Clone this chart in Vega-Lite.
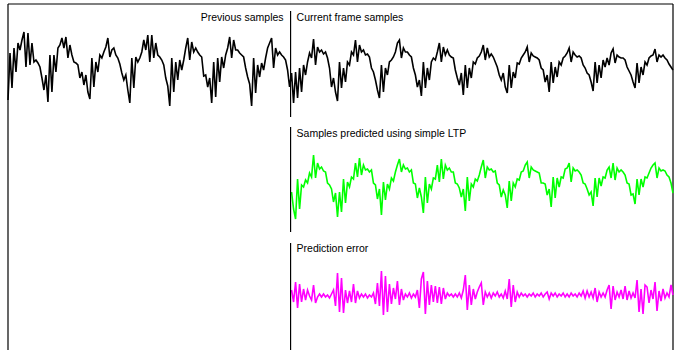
{
"$schema": "https://vega.github.io/schema/vega-lite/v6.json",
"width": 665, "height": 346,
"autosize": {"type": "none"},
"padding": {"left": 8, "top": 4, "right": 1, "bottom": 0},
"background": "white",
"config": {"view": {"stroke": null}, "font": "Liberation Sans"},
"datasets": {
"black": [
{"n":0,"v":-30},{"n":1,"v":17},{"n":2,"v":-18},{"n":3,"v":22},{"n":4,"v":-2},{"n":5,"v":27},{"n":6,"v":20},{"n":7,"v":30},{"n":8,"v":38},{"n":9,"v":3},{"n":10,"v":37},{"n":11,"v":5},{"n":12,"v":27},{"n":13,"v":8},{"n":14,"v":10},{"n":15,"v":7},{"n":16,"v":3},{"n":17,"v":-8},{"n":18,"v":-20},{"n":19,"v":-5},
{"n":20,"v":-32},{"n":21,"v":15},{"n":22,"v":-22},{"n":23,"v":15},{"n":24,"v":-2},{"n":25,"v":22},{"n":26,"v":25},{"n":27,"v":32},{"n":28,"v":22},{"n":29,"v":33},{"n":30,"v":12},{"n":31,"v":25},{"n":32,"v":15},{"n":33,"v":8},{"n":34,"v":7},{"n":35,"v":5},{"n":36,"v":-8},{"n":37,"v":-2},{"n":38,"v":-15},{"n":39,"v":-5},{"n":40,"v":-22},
{"n":41,"v":-29},{"n":42,"v":12},{"n":43,"v":-17},{"n":44,"v":8},{"n":45,"v":-2},{"n":46,"v":15},{"n":47,"v":12},{"n":48,"v":18},{"n":49,"v":23},{"n":50,"v":32},{"n":51,"v":13},{"n":52,"v":20},{"n":53,"v":22},{"n":54,"v":15},{"n":55,"v":12},{"n":56,"v":6},{"n":57,"v":-3},{"n":58,"v":-10},{"n":59,"v":-5},{"n":60,"v":-20},
{"n":61,"v":-33},{"n":62,"v":12},{"n":63,"v":-18},{"n":64,"v":13},{"n":65,"v":8},{"n":66,"v":12},{"n":67,"v":18},{"n":68,"v":30},{"n":69,"v":20},{"n":70,"v":35},{"n":71,"v":8},{"n":72,"v":35},{"n":73,"v":12},{"n":74,"v":27},{"n":75,"v":15},{"n":76,"v":13},{"n":77,"v":10},{"n":78,"v":5},{"n":79,"v":-8},{"n":80,"v":-16},
{"n":81,"v":-36},{"n":82,"v":12},{"n":83,"v":-22},{"n":84,"v":8},{"n":85,"v":-10},{"n":86,"v":10},{"n":87,"v":0},{"n":88,"v":10},{"n":89,"v":22},{"n":90,"v":32},{"n":91,"v":10},{"n":92,"v":28},{"n":93,"v":18},{"n":94,"v":22},{"n":95,"v":18},{"n":96,"v":15},{"n":97,"v":13},{"n":98,"v":-6},{"n":99,"v":-5},{"n":100,"v":-17},{"n":101,"v":-8},
{"n":102,"v":-33},{"n":103,"v":8},{"n":104,"v":-27},{"n":105,"v":12},{"n":106,"v":-12},{"n":107,"v":13},{"n":108,"v":2},{"n":109,"v":15},{"n":110,"v":22},{"n":111,"v":33},{"n":112,"v":12},{"n":113,"v":30},{"n":114,"v":20},{"n":115,"v":20},{"n":116,"v":17},{"n":117,"v":15},{"n":118,"v":13},{"n":119,"v":2},{"n":120,"v":-7},{"n":121,"v":-14},
{"n":122,"v":-36},{"n":123,"v":12},{"n":124,"v":-23},{"n":125,"v":5},{"n":126,"v":-7},{"n":127,"v":7},{"n":128,"v":0},{"n":129,"v":12},{"n":130,"v":22},{"n":131,"v":27},{"n":132,"v":32},{"n":133,"v":2},{"n":134,"v":22},{"n":135,"v":15},{"n":136,"v":18},{"n":137,"v":15},{"n":138,"v":13},{"n":139,"v":10},{"n":140,"v":0},{"n":141,"v":-17},{"n":142,"v":-3},
{"n":143,"v":-33},{"n":144,"v":-2},{"n":145,"v":-28},{"n":146,"v":2},{"n":147,"v":-22},{"n":148,"v":5},{"n":149,"v":-5},{"n":150,"v":8},{"n":151,"v":17},{"n":152,"v":12},{"n":153,"v":31},{"n":154,"v":5},{"n":155,"v":23},{"n":156,"v":18},{"n":157,"v":20},{"n":158,"v":16},{"n":159,"v":18},{"n":160,"v":12},{"n":161,"v":2},{"n":162,"v":-17},{"n":163,"v":-8},{"n":164,"v":-22},
{"n":165,"v":-31},{"n":166,"v":8},{"n":167,"v":-18},{"n":168,"v":2},{"n":169,"v":-12},{"n":170,"v":8},{"n":171,"v":5},{"n":172,"v":18},{"n":173,"v":15},{"n":174,"v":30},{"n":175,"v":8},{"n":176,"v":25},{"n":177,"v":18},{"n":178,"v":20},{"n":179,"v":15},{"n":180,"v":16},{"n":181,"v":13},{"n":182,"v":2},{"n":183,"v":-2},{"n":184,"v":-10},{"n":185,"v":-20},
{"n":186,"v":-28},{"n":187,"v":5},{"n":188,"v":-22},{"n":189,"v":2},{"n":190,"v":-5},{"n":191,"v":8},{"n":192,"v":10},{"n":193,"v":13},{"n":194,"v":18},{"n":195,"v":27},{"n":196,"v":30},{"n":197,"v":12},{"n":198,"v":22},{"n":199,"v":18},{"n":200,"v":18},{"n":201,"v":15},{"n":202,"v":13},{"n":203,"v":2},{"n":204,"v":-5},{"n":205,"v":-17},{"n":206,"v":-10},
{"n":207,"v":-26},{"n":208,"v":8},{"n":209,"v":-18},{"n":210,"v":2},{"n":211,"v":-10},{"n":212,"v":8},{"n":213,"v":12},{"n":214,"v":10},{"n":215,"v":18},{"n":216,"v":27},{"n":217,"v":8},{"n":218,"v":23},{"n":219,"v":15},{"n":220,"v":20},{"n":221,"v":15},{"n":222,"v":13},{"n":223,"v":12},{"n":224,"v":0},{"n":225,"v":-8},{"n":226,"v":-15},{"n":227,"v":-3},
{"n":228,"v":-25},{"n":229,"v":5},{"n":230,"v":-18},{"n":231,"v":2},{"n":232,"v":-8},{"n":233,"v":8},{"n":234,"v":6},{"n":235,"v":12},{"n":236,"v":14},{"n":237,"v":18},{"n":238,"v":25},{"n":239,"v":10},{"n":240,"v":22},{"n":241,"v":13},{"n":242,"v":16},{"n":243,"v":13},{"n":244,"v":8},{"n":245,"v":3},{"n":246,"v":-5},{"n":247,"v":-10},{"n":248,"v":-3},{"n":249,"v":-17},
{"n":250,"v":-23},{"n":251,"v":5},{"n":252,"v":-18},{"n":253,"v":-2},{"n":254,"v":-8},{"n":255,"v":7},{"n":256,"v":6},{"n":257,"v":12},{"n":258,"v":15},{"n":259,"v":18},{"n":260,"v":23},{"n":261,"v":8},{"n":262,"v":17},{"n":263,"v":14},{"n":264,"v":13},{"n":265,"v":12},{"n":266,"v":10},{"n":267,"v":2},{"n":268,"v":0},{"n":269,"v":-12},{"n":270,"v":-5},
{"n":271,"v":-22},{"n":272,"v":8},{"n":273,"v":-13},{"n":274,"v":3},{"n":275,"v":-7},{"n":276,"v":8},{"n":277,"v":5},{"n":278,"v":12},{"n":279,"v":14},{"n":280,"v":17},{"n":281,"v":22},{"n":282,"v":8},{"n":283,"v":18},{"n":284,"v":15},{"n":285,"v":13},{"n":286,"v":14},{"n":287,"v":12},{"n":288,"v":5},{"n":289,"v":2},{"n":290,"v":-3},{"n":291,"v":-5},{"n":292,"v":-12},
{"n":293,"v":-21},{"n":294,"v":8},{"n":295,"v":-13},{"n":296,"v":5},{"n":297,"v":-8},{"n":298,"v":10},{"n":299,"v":3},{"n":300,"v":12},{"n":301,"v":5},{"n":302,"v":17},{"n":303,"v":21},{"n":304,"v":7},{"n":305,"v":15},{"n":306,"v":13},{"n":307,"v":12},{"n":308,"v":12},{"n":309,"v":10},{"n":310,"v":3},{"n":311,"v":-1},{"n":312,"v":-5},{"n":313,"v":-12},
{"n":314,"v":-18},{"n":315,"v":7},{"n":316,"v":-13},{"n":317,"v":3},{"n":318,"v":-5},{"n":319,"v":8},{"n":320,"v":5},{"n":321,"v":12},{"n":322,"v":14},{"n":323,"v":15},{"n":324,"v":21},{"n":325,"v":8},{"n":326,"v":15},{"n":327,"v":13},{"n":328,"v":15},{"n":329,"v":12},{"n":330,"v":10},{"n":331,"v":6},{"n":332,"v":3},{"n":333,"v":0}
],
"green": [
{"n":142,"v":-5},{"n":143,"v":-22},{"n":144,"v":-32},{"n":145,"v":8},{"n":146,"v":-22},{"n":147,"v":2},{"n":148,"v":0},{"n":149,"v":7},{"n":150,"v":4},{"n":151,"v":14},{"n":152,"v":10},{"n":153,"v":32},{"n":154,"v":9},{"n":155,"v":24},{"n":156,"v":18},{"n":157,"v":20},{"n":158,"v":16},{"n":159,"v":15},{"n":160,"v":4},{"n":161,"v":2},{"n":162,"v":-2},{"n":163,"v":-15},{"n":164,"v":-6},{"n":165,"v":-30},
{"n":166,"v":-5},{"n":167,"v":-25},{"n":168,"v":8},{"n":169,"v":-16},{"n":170,"v":5},{"n":171,"v":0},{"n":172,"v":10},{"n":173,"v":8},{"n":174,"v":24},{"n":175,"v":10},{"n":176,"v":29},{"n":177,"v":12},{"n":178,"v":22},{"n":179,"v":17},{"n":180,"v":18},{"n":181,"v":15},{"n":182,"v":17},{"n":183,"v":4},{"n":184,"v":2},{"n":185,"v":-12},{"n":186,"v":-2},{"n":187,"v":-28},
{"n":188,"v":5},{"n":189,"v":-13},{"n":190,"v":3},{"n":191,"v":-2},{"n":192,"v":9},{"n":193,"v":6},{"n":194,"v":15},{"n":195,"v":22},{"n":196,"v":28},{"n":197,"v":15},{"n":198,"v":22},{"n":199,"v":18},{"n":200,"v":19},{"n":201,"v":15},{"n":202,"v":17},{"n":203,"v":4},{"n":204,"v":3},{"n":205,"v":-11},{"n":206,"v":-1},{"n":207,"v":-10},{"n":208,"v":-26},
{"n":209,"v":10},{"n":210,"v":-16},{"n":211,"v":3},{"n":212,"v":-2},{"n":213,"v":9},{"n":214,"v":8},{"n":215,"v":22},{"n":216,"v":5},{"n":217,"v":28},{"n":218,"v":8},{"n":219,"v":22},{"n":220,"v":17},{"n":221,"v":19},{"n":222,"v":15},{"n":223,"v":15},{"n":224,"v":4},{"n":225,"v":3},{"n":226,"v":-1},{"n":227,"v":-10},{"n":228,"v":-2},{"n":229,"v":-24},
{"n":230,"v":10},{"n":231,"v":-14},{"n":232,"v":3},{"n":233,"v":0},{"n":234,"v":8},{"n":235,"v":6},{"n":236,"v":12},{"n":237,"v":20},{"n":238,"v":27},{"n":239,"v":9},{"n":240,"v":20},{"n":241,"v":17},{"n":242,"v":18},{"n":243,"v":15},{"n":244,"v":16},{"n":245,"v":4},{"n":246,"v":2},{"n":247,"v":-10},{"n":248,"v":-3},{"n":249,"v":-8},{"n":250,"v":-21},
{"n":251,"v":6},{"n":252,"v":-14},{"n":253,"v":4},{"n":254,"v":0},{"n":255,"v":8},{"n":256,"v":7},{"n":257,"v":15},{"n":258,"v":16},{"n":259,"v":22},{"n":260,"v":25},{"n":261,"v":9},{"n":262,"v":20},{"n":263,"v":17},{"n":264,"v":16},{"n":265,"v":15},{"n":266,"v":14},{"n":267,"v":4},{"n":268,"v":4},{"n":269,"v":3},{"n":270,"v":-8},{"n":271,"v":-2},{"n":272,"v":-20},
{"n":273,"v":10},{"n":274,"v":-11},{"n":275,"v":9},{"n":276,"v":0},{"n":277,"v":10},{"n":278,"v":9},{"n":279,"v":18},{"n":280,"v":19},{"n":281,"v":24},{"n":282,"v":5},{"n":283,"v":19},{"n":284,"v":16},{"n":285,"v":17},{"n":286,"v":15},{"n":287,"v":12},{"n":288,"v":4},{"n":289,"v":3},{"n":290,"v":-2},{"n":291,"v":-8},{"n":292,"v":-5},{"n":293,"v":-19},
{"n":294,"v":9},{"n":295,"v":-10},{"n":296,"v":9},{"n":297,"v":1},{"n":298,"v":10},{"n":299,"v":9},{"n":300,"v":17},{"n":301,"v":20},{"n":302,"v":9},{"n":303,"v":24},{"n":304,"v":7},{"n":305,"v":19},{"n":306,"v":15},{"n":307,"v":17},{"n":308,"v":15},{"n":309,"v":12},{"n":310,"v":4},{"n":311,"v":3},{"n":312,"v":-8},{"n":313,"v":-7},{"n":314,"v":-17},
{"n":315,"v":8},{"n":316,"v":-8},{"n":317,"v":8},{"n":318,"v":0},{"n":319,"v":10},{"n":320,"v":9},{"n":321,"v":14},{"n":322,"v":19},{"n":323,"v":22},{"n":324,"v":24},{"n":325,"v":9},{"n":326,"v":19},{"n":327,"v":16},{"n":328,"v":17},{"n":329,"v":16},{"n":330,"v":12},{"n":331,"v":10},{"n":332,"v":4},{"n":333,"v":-6}
],
"magenta": [
{"n":142,"v":5},{"n":143,"v":-7},{"n":144,"v":13},{"n":145,"v":-13},{"n":146,"v":11},{"n":147,"v":-7},{"n":148,"v":6},{"n":149,"v":-5},{"n":150,"v":5},{"n":151,"v":-1},{"n":152,"v":-5},{"n":153,"v":10},{"n":154,"v":-8},{"n":155,"v":-2},{"n":156,"v":1},{"n":157,"v":-2},{"n":158,"v":1},{"n":159,"v":-2},{"n":160,"v":0},{"n":161,"v":-3},{"n":162,"v":1},{"n":163,"v":5},{"n":164,"v":-11},
{"n":165,"v":22},{"n":166,"v":-17},{"n":167,"v":17},{"n":168,"v":-18},{"n":169,"v":5},{"n":170,"v":-8},{"n":171,"v":4},{"n":172,"v":-7},{"n":173,"v":11},{"n":174,"v":-8},{"n":175,"v":4},{"n":176,"v":-3},{"n":177,"v":1},{"n":178,"v":-2},{"n":179,"v":1},{"n":180,"v":-3},{"n":181,"v":0},{"n":182,"v":-2},{"n":183,"v":2},{"n":184,"v":-9},{"n":185,"v":12},{"n":186,"v":-11},
{"n":187,"v":24},{"n":188,"v":-20},{"n":189,"v":19},{"n":190,"v":-17},{"n":191,"v":11},{"n":192,"v":-9},{"n":193,"v":7},{"n":194,"v":-4},{"n":195,"v":14},{"n":196,"v":-10},{"n":197,"v":6},{"n":198,"v":-5},{"n":199,"v":1},{"n":200,"v":-2},{"n":201,"v":2},{"n":202,"v":-3},{"n":203,"v":1},{"n":204,"v":-2},{"n":205,"v":5},{"n":206,"v":-13},
{"n":207,"v":16},{"n":208,"v":23},{"n":209,"v":-19},{"n":210,"v":14},{"n":211,"v":-10},{"n":212,"v":10},{"n":213,"v":-7},{"n":214,"v":9},{"n":215,"v":-8},{"n":216,"v":8},{"n":217,"v":-9},{"n":218,"v":7},{"n":219,"v":-4},{"n":220,"v":2},{"n":221,"v":-1},{"n":222,"v":1},{"n":223,"v":-2},{"n":224,"v":1},{"n":225,"v":-2},{"n":226,"v":2},{"n":227,"v":-3},{"n":228,"v":5},
{"n":229,"v":20},{"n":230,"v":-15},{"n":231,"v":10},{"n":232,"v":-10},{"n":233,"v":6},{"n":234,"v":-4},{"n":235,"v":3},{"n":236,"v":8},{"n":237,"v":12},{"n":238,"v":-10},{"n":239,"v":3},{"n":240,"v":-2},{"n":241,"v":2},{"n":242,"v":-3},{"n":243,"v":2},{"n":244,"v":-1},{"n":245,"v":3},{"n":246,"v":-2},{"n":247,"v":1},{"n":248,"v":-3},{"n":249,"v":4},{"n":250,"v":-4},
{"n":251,"v":16},{"n":252,"v":-12},{"n":253,"v":10},{"n":254,"v":-7},{"n":255,"v":3},{"n":256,"v":-2},{"n":257,"v":2},{"n":258,"v":-1},{"n":259,"v":1},{"n":260,"v":-2},{"n":261,"v":1},{"n":262,"v":-1},{"n":263,"v":2},{"n":264,"v":-2},{"n":265,"v":1},{"n":266,"v":-1},{"n":267,"v":2},{"n":268,"v":-2},{"n":269,"v":1},{"n":270,"v":3},{"n":271,"v":-4},{"n":272,"v":2},
{"n":273,"v":-1},{"n":274,"v":2},{"n":275,"v":-2},{"n":276,"v":1},{"n":277,"v":-1},{"n":278,"v":2},{"n":279,"v":-2},{"n":280,"v":1},{"n":281,"v":-2},{"n":282,"v":2},{"n":283,"v":-1},{"n":284,"v":1},{"n":285,"v":-2},{"n":286,"v":2},{"n":287,"v":-1},{"n":288,"v":4},{"n":289,"v":-3},{"n":290,"v":4},{"n":291,"v":-2},{"n":292,"v":3},{"n":293,"v":-3},
{"n":294,"v":7},{"n":295,"v":-7},{"n":296,"v":3},{"n":297,"v":-2},{"n":298,"v":2},{"n":299,"v":-2},{"n":300,"v":5},{"n":301,"v":10},{"n":302,"v":-14},{"n":303,"v":9},{"n":304,"v":-5},{"n":305,"v":3},{"n":306,"v":-2},{"n":307,"v":5},{"n":308,"v":-4},{"n":309,"v":9},{"n":310,"v":-5},{"n":311,"v":4},{"n":312,"v":-3},{"n":313,"v":2},{"n":314,"v":-3},
{"n":315,"v":15},{"n":316,"v":-17},{"n":317,"v":6},{"n":318,"v":-19},{"n":319,"v":10},{"n":320,"v":8},{"n":321,"v":-8},{"n":322,"v":5},{"n":323,"v":-4},{"n":324,"v":13},{"n":325,"v":-16},{"n":326,"v":4},{"n":327,"v":-6},{"n":328,"v":6},{"n":329,"v":-3},{"n":330,"v":2},{"n":331,"v":-2},{"n":332,"v":10},{"n":333,"v":0}
]
},
"layer": [
{
"layer": [
{"data": {"name": "black"}, "mark": {"type": "line", "color": "black", "strokeWidth": 1.6},
 "encoding": {"x": {"field": "n", "type": "quantitative", "scale": {"domain": [0, 333], "nice": false}, "axis": null},
  "y": {"field": "v", "type": "quantitative", "scale": {"domain": [-280, 66], "nice": false}, "axis": null}}},
{"data": {"values": [{}]}, "mark": {"type": "rule", "color": "black", "strokeWidth": 1.2},
 "encoding": {"x": {"datum": 141.5, "type": "quantitative"}, "y": {"datum": 59, "type": "quantitative"}, "y2": {"datum": -47}}},
{"data": {"values": [{}]}, "mark": {"type": "rule", "color": "black", "strokeWidth": 1.2},
 "encoding": {"y": {"datum": 66, "type": "quantitative"}}},
{"data": {"values": [{}]}, "mark": {"type": "rule", "color": "black", "strokeWidth": 1.2},
 "encoding": {"x": {"datum": 0, "type": "quantitative"}}},
{"data": {"values": [{}]}, "mark": {"type": "rule", "color": "black", "strokeWidth": 1.2},
 "encoding": {"x": {"datum": 333, "type": "quantitative"}}},
{"data": {"values": [{}]}, "mark": {"type": "text", "align": "right", "baseline": "alphabetic", "dx": -7, "fontSize": 10.5, "color": "black"},
 "encoding": {"x": {"datum": 141.5, "type": "quantitative"}, "y": {"datum": 49, "type": "quantitative"}, "text": {"value": "Previous samples"}}},
{"data": {"values": [{}]}, "mark": {"type": "text", "align": "left", "baseline": "alphabetic", "dx": 6, "fontSize": 10.5, "color": "black"},
 "encoding": {"x": {"datum": 141.5, "type": "quantitative"}, "y": {"datum": 49, "type": "quantitative"}, "text": {"value": "Current frame samples"}}}
]
},
{
"layer": [
{"data": {"name": "green"}, "mark": {"type": "line", "color": "#00ff00", "strokeWidth": 1.6},
 "encoding": {"x": {"field": "n", "type": "quantitative", "scale": {"domain": [0, 333], "nice": false}, "axis": null},
  "y": {"field": "v", "type": "quantitative", "scale": {"domain": [-163, 183], "nice": false}, "axis": null}}},
{"data": {"values": [{}]}, "mark": {"type": "rule", "color": "black", "strokeWidth": 1.2},
 "encoding": {"x": {"datum": 141.5, "type": "quantitative"}, "y": {"datum": 60, "type": "quantitative"}, "y2": {"datum": -45}}},
{"data": {"values": [{}]}, "mark": {"type": "text", "align": "left", "baseline": "alphabetic", "dx": 6, "fontSize": 10.5, "color": "black"},
 "encoding": {"x": {"datum": 141.5, "type": "quantitative"}, "y": {"datum": 50, "type": "quantitative"}, "text": {"value": "Samples predicted using simple LTP"}}}
]
},
{
"layer": [
{"data": {"name": "magenta"}, "mark": {"type": "line", "color": "#ff00ff", "strokeWidth": 1.6},
 "encoding": {"x": {"field": "n", "type": "quantitative", "scale": {"domain": [0, 333], "nice": false}, "axis": null},
  "y": {"field": "v", "type": "quantitative", "scale": {"domain": [-55, 291], "nice": false}, "axis": null}}},
{"data": {"values": [{}]}, "mark": {"type": "rule", "color": "black", "strokeWidth": 1.2},
 "encoding": {"x": {"datum": 141.5, "type": "quantitative"}, "y": {"datum": 52, "type": "quantitative"}, "y2": {"datum": -55}}},
{"data": {"values": [{}]}, "mark": {"type": "text", "align": "left", "baseline": "alphabetic", "dx": 6, "fontSize": 10.5, "color": "black"},
 "encoding": {"x": {"datum": 141.5, "type": "quantitative"}, "y": {"datum": 43, "type": "quantitative"}, "text": {"value": "Prediction error"}}}
]
}
],
"resolve": {"scale": {"y": "independent"}}
}
